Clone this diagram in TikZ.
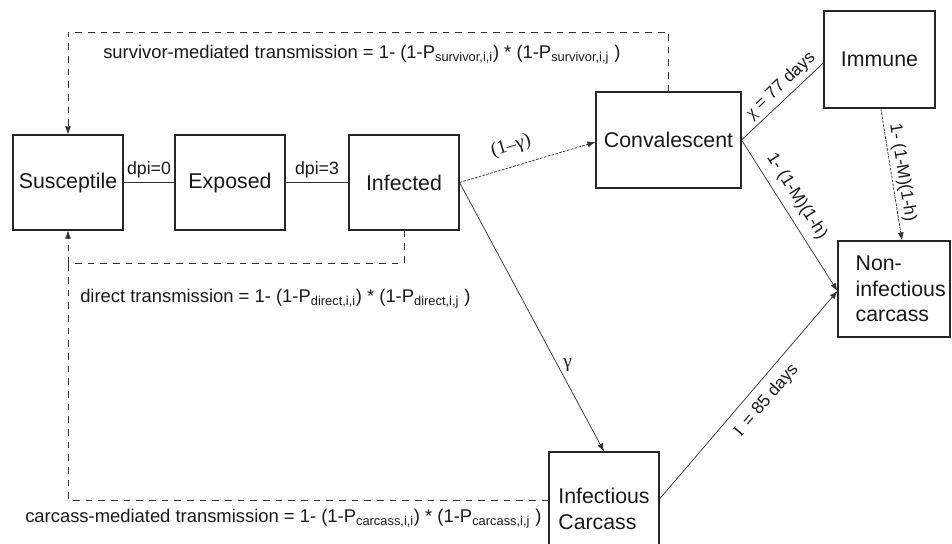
\documentclass[tikz,border=0pt]{standalone}
\usepackage{fontspec}
\setmainfont{Liberation Sans}
\newfontfamily\serifgr{Liberation Serif}
\usetikzlibrary{arrows.meta,calc}
\begin{document}
\begin{tikzpicture}[x=0.75pt,y=-0.75pt,
  box/.style={draw=black!85, line width=0.8pt, inner sep=0pt, font=\fontsize{16}{19}\selectfont, align=left, text=black!90},
  conn/.style={draw=black!80, line width=0.55pt},
  arr/.style={conn, -{Latex[length=6pt,width=4.5pt]}},
  fine/.style={dash pattern=on 2pt off 1pt},
  fb/.style={conn, dash pattern=on 5pt off 4.5pt},
  lab/.style={font=\fontsize{13.8}{16}\selectfont, inner sep=0pt, text=black!90},
  elab/.style={font=\fontsize{13}{15}\selectfont, text=black!90},
  glab/.style={font=\fontsize{14.5}{16}\serifgr, text=black!90},
  dlab/.style={font=\fontsize{13.3}{15}\selectfont, text=black!90},
]
\useasboundingbox (0,0) rectangle (952,543);
% boxes
\node[box, minimum width=82.5pt, minimum height=71.25pt] (sus) at (68,182.5) {Susceptile};
\node[box, minimum width=82.5pt, minimum height=71.25pt] (exp) at (230,182.5) {Exposed};
\node[box, minimum width=82.5pt, minimum height=71.25pt] (inf) at (404,182.5) {Infected};
\node[box, minimum width=108.75pt, minimum height=72pt] (conv) at (668.5,140) {Convalescent};
\node[box, minimum width=83.25pt, minimum height=72.75pt] (imm) at (879.5,59.5) {Immune};
\node[box, minimum width=84pt, minimum height=72pt] (noninf) at (894,289) {\hspace*{10pt}Non-\\\hspace*{10pt}infectious\\\hspace*{10pt}carcass};
\node[box, minimum width=82.5pt, minimum height=85.5pt] (carc) at (604,509) {Infectious\\Carcass};
% helper coordinates
\coordinate (top) at (68,32);
\coordinate (dl) at (68,263);
% connectors
\draw[conn] (sus) -- node[dlab, above, inner sep=3pt] (l1) {dpi=0} (exp);
\draw[conn] (exp) -- node[dlab, above, inner sep=3pt] (l2) {dpi=3} (inf);
\draw[arr, fine] (inf.east) -- node[glab, pos=0.42, sloped, above, inner sep=8pt] (l3) {(1–γ)} ([yshift=-1.5pt]conv.west);
\draw[arr] (inf.east) -- node[glab, pos=0.68, right, inner sep=4pt] (l4) {γ} (carc.north);
\draw[conn] (conv.east) -- node[elab, pos=0.585, sloped, above, inner sep=3pt] (l5) {{\serifgr χ} = 77 days} ([yshift=-2.5pt]imm.west);
\draw[arr] (conv.east) -- node[elab, pos=0.43, sloped, above, inner sep=6pt] (l6) {1- (1-M)(1-h)} ([yshift=-1.5pt]noninf.west);
\draw[arr, fine] ([xshift=1pt]imm.south) -- node[elab, pos=0.5, sloped, above, inner sep=2pt] (l7) {1- (1-M)(1-h)} ([xshift=6pt]noninf.north);
\draw[arr] ([yshift=7.5pt]carc.east) -- node[elab, pos=0.527, sloped, below, inner sep=6.5pt] (l8) {{\serifgr I}\, = 85 days} ([yshift=-1.5pt]noninf.west);
% feedback (dashed)
\draw[fb, -{Latex[length=6pt,width=4.5pt]}] (conv.north) |- (top) -- (sus.north);
\draw[fb, -{Latex[length=6pt,width=4.5pt]}] (inf.south) |- (dl) -- (sus.south);
\draw[fb] ([yshift=6.75pt]carc.west) -| (dl);
% transmission labels
\node[lab, anchor=west] (surv) at (103,55) {survivor-mediated transmission = 1- (1-P\textsubscript{survivor,i,i}) * (1-P\textsubscript{survivor,i,j} )};
\node[lab, anchor=west] (dir) at (80,299) {direct transmission = 1- (1-P\textsubscript{direct,i,i}) * (1-P\textsubscript{direct,i,j} )};
\node[lab, anchor=west] (carcl) at (25,519) {carcass-mediated transmission = 1- (1-P\textsubscript{carcass,i,i}) * (1-P\textsubscript{carcass,i,j} )};
\end{tikzpicture}
\end{document}
